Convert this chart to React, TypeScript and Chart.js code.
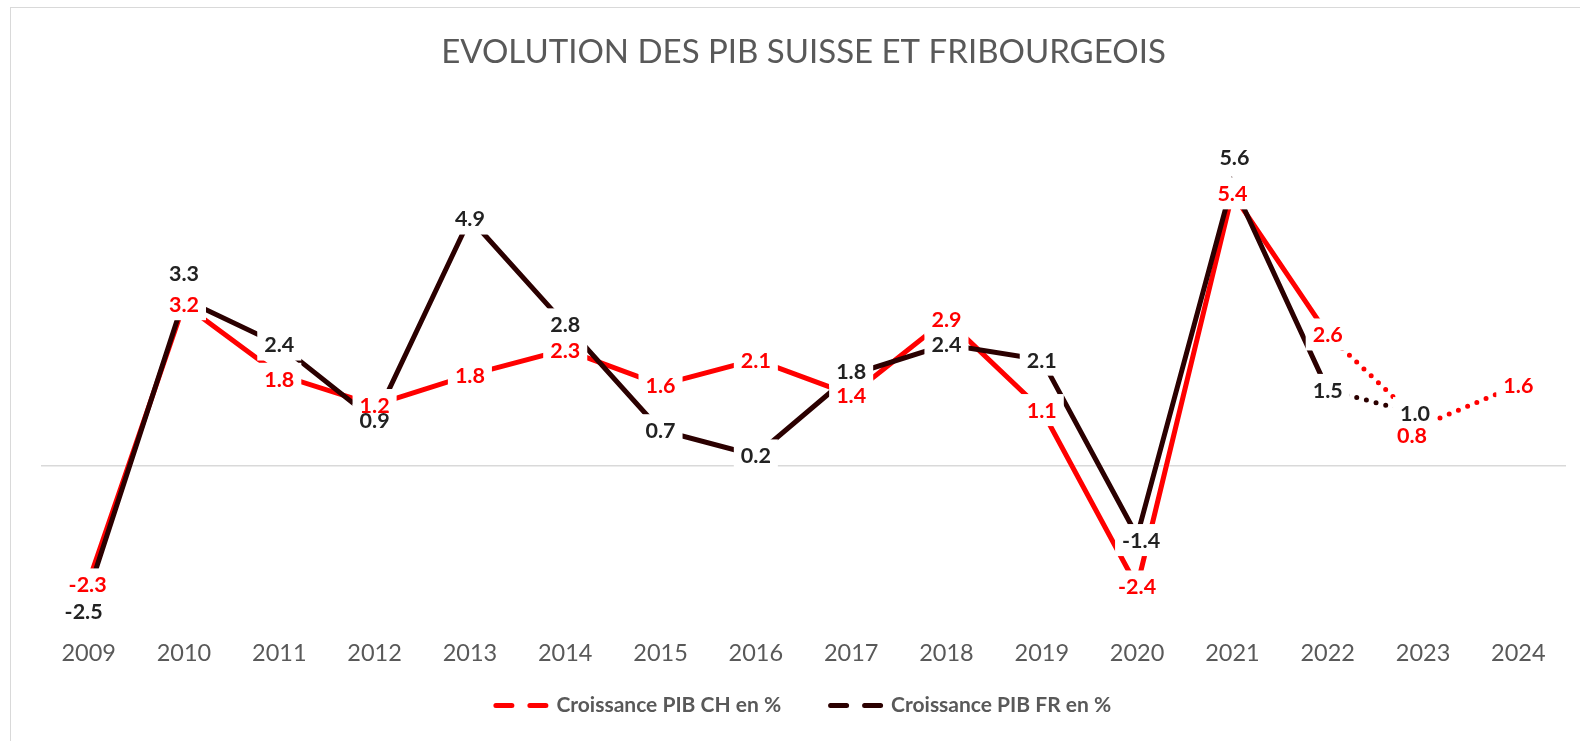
import React, { useEffect, useRef } from "react";
import { Chart, registerables } from "chart.js";

Chart.register(...registerables);

// ---- data ----
const years = ["2009", "2010", "2011", "2012", "2013", "2014", "2015", "2016", "2017", "2018", "2019", "2020", "2021", "2022", "2023", "2024"];
const pibCH = [-2.3, 3.2, 1.8, 1.2, 1.8, 2.3, 1.6, 2.1, 1.4, 2.9, 1.1, -2.4, 5.4, 2.6, 0.8, 1.6];
const pibFR = [-2.5, 3.3, 2.4, 0.9, 4.9, 2.8, 0.7, 0.2, 1.8, 2.4, 2.1, -1.4, 5.6, 1.5, 1.0, null];
const forecastFromIndex = 13; // segments starting at 2022 are drawn dotted

const chartTitle = "EVOLUTION DES PIB SUISSE ET FRIBOURGEOIS";
const seriesNames = ["Croissance PIB CH en %", "Croissance PIB FR en %"];

// ---- style ----
const colorCH = "#ff0000";
const colorFR = "#2b0000";
const labelColors = [colorCH, "#222222"];
const greyText = "#595959";
const fontFamily = "Lato, 'Open Sans', sans-serif";

// manual nudges of a few data labels (pixels), per dataset index -> point index
const labelNudges: Record<number, Record<number, [number, number]>> = {
  0: { 0: [-1, 3], 2: [0, 4], 14: [-11, 10] },
  1: { 0: [-5, 20], 1: [0, -26], 8: [0, -4], 11: [4, 4], 12: [2, -26], 14: [-8, -2] },
};

const valueLabelsPlugin = {
  id: "valueLabels",
  afterLayout(chart: any) {
    // let the x tick labels extend below the (compact) axis box without being clipped
    const xs = chart.scales.x;
    if (xs) xs.bottom = xs.top + 80;
  },
  afterDatasetsDraw(chart: any) {
    const ctx = chart.ctx;
    ctx.save();
    ctx.font = `bold 21.5px ${fontFamily}`;
    const items: any[] = [];
    chart.data.datasets.forEach((ds: any, di: number) => {
      const meta = chart.getDatasetMeta(di);
      meta.data.forEach((pt: any, i: number) => {
        const v = ds.data[i];
        if (v === null || v === undefined) return;
        const n = (labelNudges[di] && labelNudges[di][i]) || [0, 0];
        const text = v.toFixed(1);
        items.push({ text, x: pt.x + n[0], y: pt.y + n[1], w: ctx.measureText(text).width, color: labelColors[di] });
      });
    });
    ctx.fillStyle = "#ffffff";
    const padX = 7;
    const boxH = 32;
    items.forEach((it) => ctx.fillRect(it.x - it.w / 2 - padX, it.y - boxH / 2, it.w + 2 * padX, boxH));
    ctx.textAlign = "center";
    ctx.textBaseline = "middle";
    items.forEach((it) => {
      ctx.fillStyle = it.color;
      ctx.fillText(it.text, it.x, it.y + 1);
    });
    ctx.restore();
  },
};

const dotted = (ctx: any) => (ctx.p0DataIndex >= forecastFromIndex ? [0, 10] : []);
const capStyle = (ctx: any) => (ctx.p0DataIndex >= forecastFromIndex ? "round" : "butt");
const segWidth = (ctx: any) => 5;

export default function App() {
  const canvasRef = useRef<HTMLCanvasElement | null>(null);

  useEffect(() => {
    if (!canvasRef.current) return;
    const lineColors = [colorCH, colorFR];
    const chart = new Chart(canvasRef.current, {
      type: "line",
      data: {
        labels: years,
        datasets: [
          {
            label: seriesNames[0],
            data: pibCH,
            borderColor: colorCH,
            backgroundColor: colorCH,
            borderWidth: 5,
            pointRadius: 0,
            pointHoverRadius: 0,
            tension: 0,
            order: 1,
            segment: { borderDash: dotted, borderCapStyle: capStyle, borderWidth: segWidth },
          },
          {
            label: seriesNames[1],
            data: pibFR,
            borderColor: colorFR,
            backgroundColor: colorFR,
            borderWidth: 5,
            pointRadius: 0,
            pointHoverRadius: 0,
            tension: 0,
            order: 0,
            segment: { borderDash: dotted, borderCapStyle: capStyle, borderWidth: segWidth },
          },
        ],
      },
      options: {
        responsive: false,
        animation: false,
        events: [],
        layout: { padding: { left: 41, right: 14, top: 0, bottom: 15 } },
        scales: {
          x: {
            offset: true,
            grid: { display: false, drawTicks: false },
            border: { display: false },
            ticks: { color: greyText, font: { family: fontFamily, size: 23.5 }, padding: 23, maxRotation: 0, autoSkip: false },
            afterFit: (scale: any) => {
              scale.height = 28.8;
            },
          },
          y: {
            min: -3,
            max: 6,
            border: { display: false },
            grid: {
              drawTicks: false,
              color: (c: any) => (c.tick && c.tick.value === 0 ? "#d9d9d9" : "rgba(0,0,0,0)"),
              lineWidth: 1.5,
            },
            ticks: { display: false, stepSize: 1 },
          },
        },
        plugins: {
          title: {
            display: true,
            text: chartTitle,
            color: greyText,
            font: { family: fontFamily, size: 33, weight: "normal" },
            padding: { top: 33, bottom: 90.5 },
          },
          legend: {
            position: "bottom",
            labels: {
              usePointStyle: true,
              pointStyleWidth: 50,
              padding: 49.5,
              color: greyText,
              font: { family: fontFamily, size: 21, weight: "bold" },
              sort: (a: any, b: any) => a.datasetIndex - b.datasetIndex,
              generateLabels: (ch: any) =>
                Chart.defaults.plugins.legend.labels.generateLabels(ch).map((item: any) => ({
                  ...item,
                  pointStyle: "line",
                  lineDash: [16, 18],
                  lineCap: "round",
                  lineWidth: 5,
                  strokeStyle: lineColors[item.datasetIndex],
                  fillStyle: lineColors[item.datasetIndex],
                })),
            },
          },
          tooltip: { enabled: false },
        },
      },
      plugins: [valueLabelsPlugin],
    });
    return () => chart.destroy();
  }, []);

  return (
    <div style={{ position: "fixed", left: 0, top: 0, width: 1580, height: 741, overflow: "hidden", background: "#ffffff" }}>
      <div
        style={{
          position: "absolute",
          left: 10,
          top: 7,
          width: 1640,
          height: 820,
          border: "1.5px solid #d9d9d9",
          boxSizing: "border-box",
        }}
      />
      <canvas ref={canvasRef} width={1580} height={741} style={{ position: "absolute", left: 0, top: 0, width: 1580, height: 741 }} />
    </div>
  );
}
